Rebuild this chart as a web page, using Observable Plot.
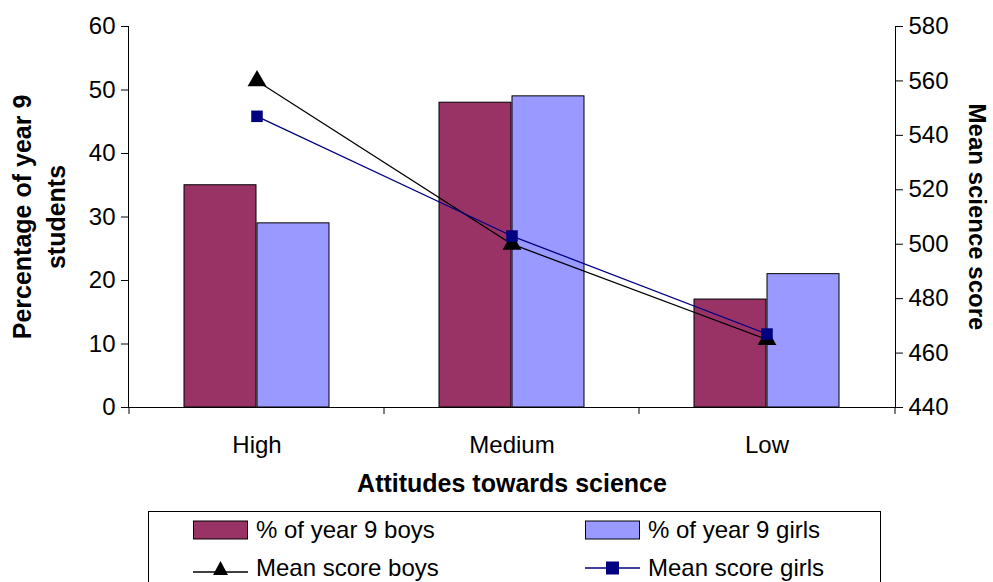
<!DOCTYPE html>
<html><head><meta charset="utf-8">
<script src="https://cdn.jsdelivr.net/npm/d3@7"></script>
<script src="https://cdn.jsdelivr.net/npm/@observablehq/plot@0.6"></script>
<style>
body{margin:0;background:#fff;font-family:"Liberation Sans",Arial,sans-serif;}
#wrap{position:relative;width:993px;height:582px;overflow:hidden}
#chart{position:absolute;left:0;top:0}
#legend{position:absolute;left:148px;top:511px;width:731px;height:90px;border:1px solid #000;font-size:24px}
.item{position:absolute;display:flex;align-items:center;gap:8px}
</style></head>
<body><div id="wrap"><div id="chart"></div><div id="legend"></div></div>
<script>
const categories = ["High", "Medium", "Low"]
const boysPct = [35, 48, 17]
const girlsPct = [29, 49, 21]
const boysScore = [560, 500, 465]
const girlsScore = [547, 503, 467]
const rightTicks = [440, 460, 480, 500, 520, 540, 560, 580]

// right axis 440..580 mapped onto left 0..60
const toLeft = v => (v - 440) / 140 * 60

const bars = categories.flatMap((c, i) => [
  {cat: c, g: "boys", v: boysPct[i]},
  {cat: c, g: "girls", v: girlsPct[i]}
])
const boysLine = categories.map((c, i) => ({cat: c, v: toLeft(boysScore[i])}))
const girlsLine = categories.map((c, i) => ({cat: c, v: toLeft(girlsScore[i])}))

const chart = Plot.plot({
  width: 993, height: 500,
  marginLeft: 128, marginRight: 98, marginTop: 26, marginBottom: 93,
  style: {fontFamily: "Liberation Sans, Arial, sans-serif", fontSize: "24px", color: "#000"},
  x: {domain: categories, padding: 0, axis: null},
  y: {domain: [0, 60], axis: null},
  marks: [
    Plot.barY(bars.filter(d => d.g === "boys"), {x: "cat", y: "v", fill: "#993366", stroke: "#000", insetLeft: 55, insetRight: 128}),
    Plot.barY(bars.filter(d => d.g === "girls"), {x: "cat", y: "v", fill: "#9999FF", stroke: "#000", insetLeft: 128, insetRight: 55}),
    Plot.line(boysLine, {x: "cat", y: "v", stroke: "#000", strokeWidth: 1.3}),
    Plot.line(girlsLine, {x: "cat", y: "v", stroke: "#000080", strokeWidth: 1.3}),
    Plot.dot(boysLine, {x: "cat", y: "v", symbol: "triangle", r: 7, fill: "#000"}),
    Plot.dot(girlsLine, {x: "cat", y: "v", symbol: "square", r: 6.5, fill: "#000080"}),
    Plot.axisY({anchor: "left", ticks: d3.range(0, 61, 10), tickSize: 7, tickPadding: 6, label: null, fontSize: 24}),
    Plot.axisY({anchor: "right", ticks: rightTicks.map(toLeft), tickFormat: v => Math.round(v * 140 / 60 + 440), tickSize: 7, tickPadding: 6, label: null, fontSize: 24}),
    Plot.axisX({tickSize: 0, tickPadding: 28, label: null, fontSize: 24}),
    Plot.ruleX(categories, {x: d => d, dx: -128, y1: 0, y2: -1.1}),
    Plot.ruleX(["Low"], {x: d => d, dx: 128, y1: 0, y2: -1.1}),
    Plot.ruleY([0]),
    Plot.frame({anchor: "left"}),
    Plot.frame({anchor: "right"}),
    Plot.text(["Percentage of year 9"], {frameAnchor: "left", textAnchor: "middle", rotate: -90, dx: -106, fontWeight: "bold", fontSize: 25}),
    Plot.text(["students"], {frameAnchor: "left", textAnchor: "middle", rotate: -90, dx: -72, fontWeight: "bold", fontSize: 25}),
    Plot.text(["Mean science score"], {frameAnchor: "right", textAnchor: "middle", rotate: 90, dx: 81, fontWeight: "bold", fontSize: 24}),
    Plot.text(["Attitudes towards science"], {frameAnchor: "bottom", dy: 84, fontWeight: "bold", fontSize: 25})
  ]
})
document.getElementById("chart").append(chart)

const sw = {
  bar: c => `<svg width="55" height="20"><rect x="0.5" y="1" width="54" height="18" fill="${c}" stroke="#000"/></svg>`,
  tri: `<svg width="55" height="20"><line x1="0" y1="14" x2="55" y2="14" stroke="#000" stroke-width="1.3"/><path d="M27.5,3 L35,17 L20,17Z" fill="#000"/></svg>`,
  sq: `<svg width="55" height="20"><line x1="0" y1="10" x2="55" y2="10" stroke="#000080" stroke-width="1.3"/><rect x="21" y="3.5" width="13" height="13" fill="#000080"/></svg>`
}
const items = [
  [44, 4, sw.bar("#993366"), "% of year 9 boys"],
  [436, 4, sw.bar("#9999FF"), "% of year 9 girls"],
  [44, 42, sw.tri, "Mean score boys"],
  [436, 42, sw.sq, "Mean score girls"]
]
const lg = document.getElementById("legend")
items.forEach(([x, y, s, t]) => {
  const d = document.createElement("div")
  d.className = "item"; d.style.left = x + "px"; d.style.top = y + "px"
  d.innerHTML = s + "<span>" + t + "</span>"
  lg.append(d)
})
</script></body></html>
